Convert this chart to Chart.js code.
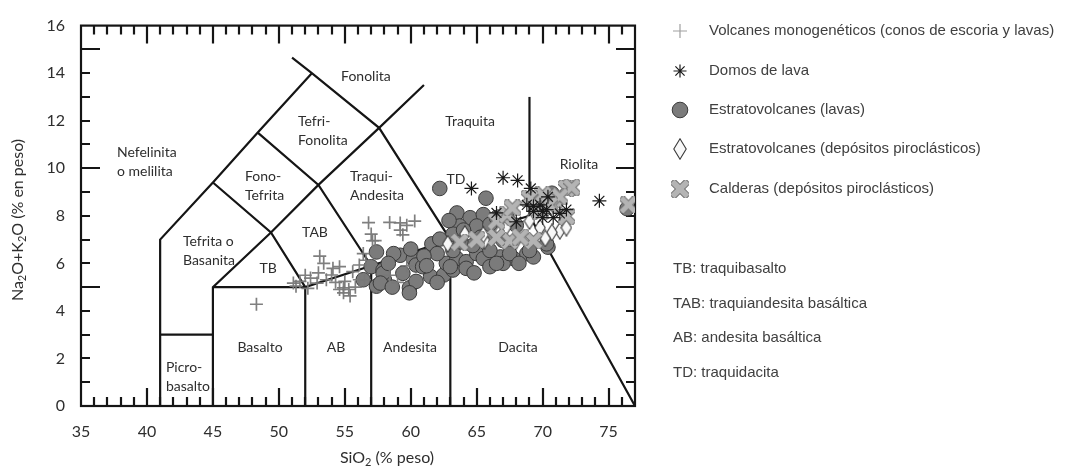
<!DOCTYPE html>
<html><head><meta charset="utf-8">
<script src="https://cdn.jsdelivr.net/npm/chart.js@4.4.1/dist/chart.umd.min.js"></script>
<style>html,body{margin:0;padding:0;background:#fff;}canvas{display:block;}</style>
</head><body>
<canvas id="c" width="1066" height="471" style="width:1066px;height:471px"></canvas>
<script>
// ---------- DATA ----------
const xTicks = [35, 40, 45, 50, 55, 60, 65, 70, 75];
const yTicks = [0, 2, 4, 6, 8, 10, 12, 14, 16];

// Volcanes monogenéticos (conos de escoria y lavas)
const monoSi  = [48.3, 53.1, 53.4, 54.6, 54.0, 52.4, 51.6, 51.1, 52.9, 53.6, 55.0, 55.6, 56.1, 56.6, 54.9, 55.3, 55.4, 54.6, 56.1, 56.4, 51.3, 52.2, 54.1, 56.5, 54.9, 58.4, 59.0, 59.7, 57.1, 59.4, 56.8, 58.4, 59.2, 59.7, 60.3, 57.0, 59.2, 57.3, 67.9, 66.0, 53.0, 52.0, 55.8, 54.3];
const monoAlk = [4.28, 6.30, 6.00, 5.86, 5.51, 5.38, 5.24, 5.17, 5.17, 5.31, 5.24, 5.65, 5.93, 6.13, 4.76, 4.90, 4.63, 4.90, 5.31, 6.41, 5.04, 4.95, 5.79, 5.31, 4.97, 5.50, 5.20, 5.90, 6.95, 7.20, 7.71, 7.72, 7.70, 7.60, 7.78, 7.23, 7.40, 6.96, 7.10, 7.10, 5.60, 5.50, 5.00, 5.20];

// Domos de lava
const domoSi  = [64.6, 67.0, 68.1, 69.1, 74.3, 69.8, 70.4, 71.8, 69.3, 70.0, 68.0, 66.5, 68.8, 70.8, 70.3, 69.3, 70.0, 71.3];
const domoAlk = [9.15, 9.60, 9.49, 9.15, 8.63, 8.46, 8.80, 8.26, 8.19, 8.19, 7.75, 8.12, 8.46, 7.92, 8.26, 8.40, 7.92, 8.10];

// Estratovolcanes (lavas)
const lavaSi  = [56.4, 57.4, 57.0, 57.4, 58.0, 57.9, 59.2, 60.2, 60.4, 59.4, 59.9, 60.4, 61.5, 61.6, 62.5, 62.7, 63.5, 63.2, 64.2, 65.0, 65.5, 66.0, 66.8, 67.8, 68.8, 69.3, 70.4,
                 62.2, 65.7, 63.5, 64.5, 65.5, 63.7, 65.0, 66.0, 62.0, 63.2, 64.7, 66.0, 67.0, 58.7, 63.0, 64.2, 67.0, 60.9,
                 66.5, 67.3, 63.2, 62.2, 76.4, 70.7, 70.3, 67.5, 69.0, 57.9, 57.7, 58.6, 59.9,
                 58.3, 61.0, 62.0, 64.8, 66.5, 68.2, 60.0, 63.8, 65.3, 62.9, 64.0, 68.0, 61.2];
const lavaAlk = [5.31, 6.48, 5.86, 5.04, 5.31, 5.72, 6.34, 6.20, 5.93, 5.58, 4.97, 5.24, 5.45, 6.82, 5.51, 6.00, 6.20, 5.72, 6.07, 6.41, 6.20, 5.86, 6.27, 6.20, 6.41, 6.27, 6.68,
                 9.15, 8.74, 8.12, 7.92, 8.05, 7.57, 7.57, 7.64, 6.41, 6.54, 6.75, 6.54, 6.96, 6.41, 5.86, 5.79, 6.00, 5.86,
                 7.92, 7.92, 7.23, 7.02, 8.30, 8.95, 6.82, 6.41, 6.54, 5.58, 5.17, 5.00, 4.76,
                 6.00, 6.30, 5.20, 5.60, 6.00, 6.00, 6.60, 6.90, 7.10, 7.80, 7.40, 7.60, 5.90];

// Estratovolcanes (depósitos piroclásticos)
const piroSi  = [62.8, 64.1, 65.6, 66.8, 69.0, 69.8, 71.3, 71.8, 70.7, 68.0, 67.2, 70.2, 65.5];
const piroAlk = [6.82, 7.23, 6.96, 7.37, 7.78, 7.50, 7.37, 7.50, 7.30, 6.96, 7.50, 7.05, 7.20];

// Calderas (depósitos piroclásticos)
const caldSi  = [71.8, 72.2, 70.9, 69.5, 76.5, 71.8, 69.8, 67.1, 67.5, 69.3, 66.5, 66.5, 63.7, 71.3, 67.3, 68.3, 70.0, 70.5, 69.0, 67.7, 65.0];
const caldAlk = [9.15, 9.20, 8.67, 8.74, 8.46, 7.98, 8.19, 7.92, 6.96, 6.96, 7.78, 7.09, 6.89, 8.80, 8.05, 7.10, 8.88, 8.46, 8.74, 8.33, 7.00];

// TAS field boundaries (SiO2, Na2O+K2O)
const boundaries = [
  [[41,0],[41,7],[45,9.4],[48.4,11.5],[52.5,14]],
  [[51,14.65],[52.5,14],[57.6,11.7],[63,7],[63,0]],
  [[45,9.4],[49.4,7.3],[52,5],[52,0]],
  [[48.4,11.5],[53,9.3],[57,5.9],[57,0]],
  [[41,3],[45,3]],
  [[45,0],[45,5],[49.4,7.3],[53,9.3],[57.6,11.7],[61,13.5]],
  [[45,5],[52,5],[57,5.9],[63,7],[69,8],[77,0]],
  [[69,8],[69,13]]
];

const seriesNames = [
  'Volcanes monogenéticos (conos de escoria y lavas)',
  'Domos de lava',
  'Estratovolcanes (lavas)',
  'Estratovolcanes (depósitos piroclásticos)',
  'Calderas (depósitos piroclásticos)'
];
const abbreviations = ['TB: traquibasalto', 'TAB: traquiandesita basáltica', 'AB: andesita basáltica', 'TD: traquidacita'];

const regionLabels = [
  {t:['Nefelinita','o melilita'], x:37.73, y:10.65, a:'left'},
  {t:['Fonolita'], x:56.6, y:13.86, a:'center'},
  {t:['Tefri-','Fonolita'], x:51.45, y:11.96, a:'left'},
  {t:['Fono-','Tefrita'], x:47.43, y:9.66, a:'left'},
  {t:['Traquita'], x:64.5, y:11.96, a:'center'},
  {t:['Riolita'], x:72.75, y:10.15, a:'center'},
  {t:['Traqui-','Andesita'], x:55.4, y:9.66, a:'left'},
  {t:['TAB'], x:52.74, y:7.31, a:'center'},
  {t:['TD'], x:63.43, y:9.54, a:'center'},
  {t:['Tefrita o','Basanita'], x:42.73, y:6.94, a:'left'},
  {t:['TB'], x:49.18, y:5.79, a:'center'},
  {t:['Basalto'], x:48.57, y:2.46, a:'center'},
  {t:['AB'], x:54.33, y:2.46, a:'center'},
  {t:['Picro-','basalto'], x:41.44, y:1.63, a:'left'},
  {t:['Andesita'], x:59.94, y:2.46, a:'center'},
  {t:['Dacita'], x:68.13, y:2.46, a:'center'}
];

// ---------- custom marker images ----------
function makeDiamond(w, h) {
  const c = document.createElement('canvas'); c.width = w; c.height = h;
  const g = c.getContext('2d');
  g.beginPath(); g.moveTo(w/2, 0.8); g.lineTo(w-0.8, h/2); g.lineTo(w/2, h-0.8); g.lineTo(0.8, h/2); g.closePath();
  g.fillStyle = '#f8f8f8'; g.fill(); g.strokeStyle = '#3a3a3a'; g.lineWidth = 1.1; g.stroke();
  return c;
}
function makeX(s, t) {
  const c = document.createElement('canvas'); c.width = s; c.height = s;
  const g = c.getContext('2d');
  const m = s/2, L = s/2 - 1.5;
  function arm(ang){ g.save(); g.translate(m,m); g.rotate(ang); g.beginPath(); g.rect(-L*1.41, -t/2, 2*L*1.41, t); g.restore(); }
  g.save(); g.beginPath(); g.rect(0,0,s,s); g.clip();
  g.strokeStyle = '#707070'; g.lineWidth = 2;
  arm(Math.PI/4); g.stroke(); arm(-Math.PI/4); g.stroke();
  g.fillStyle = '#b4b4b4';
  arm(Math.PI/4); g.fill(); arm(-Math.PI/4); g.fill();
  g.restore();
  return c;
}
const diamondImg = makeDiamond(12, 18);
const diamondLeg = makeDiamond(14, 22);
const xImg = makeX(17, 5);
const xLeg = makeX(18, 5.5);

const pts = (xs, ys) => xs.map((v, i) => ({x: v, y: ys[i]}));

const datasets = [];
boundaries.forEach(b => datasets.push({
  type: 'line', data: b.map(p => ({x: p[0], y: p[1]})), borderColor: '#151515', borderWidth: 2.2,
  pointRadius: 0, fill: false, tension: 0, order: 20, clip: false
}));
datasets.push({label: seriesNames[2], data: pts(lavaSi, lavaAlk), pointStyle: 'circle', pointRadius: 7.3,
  backgroundColor: '#7b7b7b', borderColor: '#3a3a3a', borderWidth: 1, order: 6});
datasets.push({label: seriesNames[0], data: pts(monoSi, monoAlk), pointStyle: 'cross', pointRadius: 6.5,
  borderColor: 'rgba(120,120,120,0.95)', borderWidth: 1.7, order: 5});
datasets.push({label: seriesNames[3], data: pts(piroSi, piroAlk), pointStyle: diamondImg, pointRadius: 9, order: 4});
datasets.push({label: seriesNames[4], data: pts(caldSi, caldAlk), pointStyle: xImg, pointRadius: 8, order: 3});
datasets.push({label: seriesNames[1], data: pts(domoSi, domoAlk), pointStyle: 'star', pointRadius: 7,
  borderColor: '#1a1a1a', borderWidth: 1.2, order: 2});

function richWidth(ctx, parts, fs, sfs) {
  let w = 0;
  parts.forEach(p => { ctx.font = (p.sub ? sfs : fs) + 'px Lato'; w += ctx.measureText(p.t).width; });
  return w;
}
function drawRich(ctx, parts, x, y, fs, sfs) {
  let cx = x - richWidth(ctx, parts, fs, sfs) / 2;
  parts.forEach(p => {
    ctx.font = (p.sub ? sfs : fs) + 'px Lato';
    ctx.fillText(p.t, cx, y + (p.sub ? 4 : 0));
    cx += ctx.measureText(p.t).width;
  });
}

const decor = {
  id: 'decor',
  beforeDatasetsDraw(chart) {
    const ctx = chart.ctx, a = chart.chartArea, xs = chart.scales.x, ys = chart.scales.y;
    ctx.save();
    ctx.strokeStyle = '#151515'; ctx.lineWidth = 2.2; ctx.lineCap = 'butt';
    for (let v = 36; v < 77; v++) {
      const px = Math.round(xs.getPixelForValue(v));
      const len = v % 5 === 0 ? 18 : 9;
      ctx.beginPath(); ctx.moveTo(px, a.bottom); ctx.lineTo(px, a.bottom - len);
      ctx.moveTo(px, a.top); ctx.lineTo(px, a.top + len); ctx.stroke();
    }
    for (let v = 1; v < 16; v++) {
      const py = Math.round(ys.getPixelForValue(v));
      const len = v % 5 === 0 ? 19 : 9;
      ctx.beginPath(); ctx.moveTo(a.left, py); ctx.lineTo(a.left + len, py);
      ctx.moveTo(a.right, py); ctx.lineTo(a.right - len, py); ctx.stroke();
    }
    ctx.strokeRect(a.left, a.top, a.right - a.left, a.bottom - a.top);
    // region labels
    ctx.fillStyle = '#2e2e2e'; ctx.font = '14px Lato'; ctx.textBaseline = 'middle';
    regionLabels.forEach(r => {
      ctx.textAlign = r.a;
      const px = xs.getPixelForValue(r.x), py = ys.getPixelForValue(r.y);
      r.t.forEach((line, i) => ctx.fillText(line, px, py + i * 19));
    });
    ctx.restore();
  },
  afterDraw(chart) {
    const ctx = chart.ctx, a = chart.chartArea;
    ctx.save();
    ctx.fillStyle = '#2e2e2e'; ctx.textBaseline = 'middle'; ctx.textAlign = 'left';
    // x title
    drawRich(ctx, [{t:'SiO'},{t:'2',sub:true},{t:' (% peso)'}], a.left + 306, 458, 16, 11);
    // y title rotated
    ctx.save(); ctx.translate(18, 220); ctx.rotate(-Math.PI/2);
    drawRich(ctx, [{t:'Na'},{t:'2',sub:true},{t:'O+K'},{t:'2',sub:true},{t:'O (% en peso)'}], 0, 0, 16, 11);
    ctx.restore();
    // legend
    const rows = [31, 71, 110, 149, 189];
    const mx = 680, tx = 709;
    ctx.font = '15px "Liberation Sans", Arial, sans-serif'; ctx.fillStyle = '#404040';
    seriesNames.forEach((n, i) => ctx.fillText(n, tx, rows[i]));
    const H = Chart.helpers;
    ctx.strokeStyle = '#a0a0a0'; ctx.lineWidth = 1.2;
    H.drawPoint(ctx, {pointStyle: 'cross', radius: 7, borderWidth: 1.2, rotation: 0}, mx, rows[0]);
    ctx.strokeStyle = '#1a1a1a'; ctx.lineWidth = 1.2;
    H.drawPoint(ctx, {pointStyle: 'star', radius: 6.5, borderWidth: 1.2, rotation: 0}, mx, rows[1]);
    ctx.fillStyle = '#7b7b7b'; ctx.strokeStyle = '#3a3a3a'; ctx.lineWidth = 1;
    H.drawPoint(ctx, {pointStyle: 'circle', radius: 7.8, borderWidth: 1, rotation: 0}, mx, rows[2]);
    H.drawPoint(ctx, {pointStyle: diamondLeg, radius: 10, borderWidth: 1, rotation: 0}, mx, rows[3]);
    H.drawPoint(ctx, {pointStyle: xLeg, radius: 9, borderWidth: 1, rotation: 0}, mx, rows[4]);
    // abbreviations
    ctx.fillStyle = '#404040'; ctx.font = '15px "Liberation Sans", Arial, sans-serif';
    const ab = [269, 303.5, 338, 373];
    abbreviations.forEach((t, i) => ctx.fillText(t, 673, ab[i]));
    ctx.restore();
  }
};

new Chart(document.getElementById('c'), {
  type: 'scatter',
  data: {datasets},
  options: {
    responsive: false, animation: false, devicePixelRatio: 1,
    layout: {padding: {left: 0, right: 431, top: 17, bottom: 0}},
    plugins: {legend: {display: false}, tooltip: {enabled: false}},
    scales: {
      x: {type: 'linear', min: 35, max: 77,
        afterFit: s => { s.height = 65; },
        afterBuildTicks: s => { s.ticks = xTicks.map(v => ({value: v})); },
        grid: {display: false, drawTicks: false}, border: {display: false},
        ticks: {padding: 16, color: '#2e2e2e', font: {family: 'Lato', size: 16}, maxRotation: 0, autoSkip: false}},
      y: {type: 'linear', min: 0, max: 16,
        afterFit: s => { s.width = 81; },
        afterBuildTicks: s => { s.ticks = yTicks.map(v => ({value: v})); },
        grid: {display: false, drawTicks: false}, border: {display: false},
        ticks: {padding: 16, color: '#2e2e2e', font: {family: 'Lato', size: 16}, autoSkip: false}}
    }
  },
  plugins: [decor]
});
</script></body></html>
